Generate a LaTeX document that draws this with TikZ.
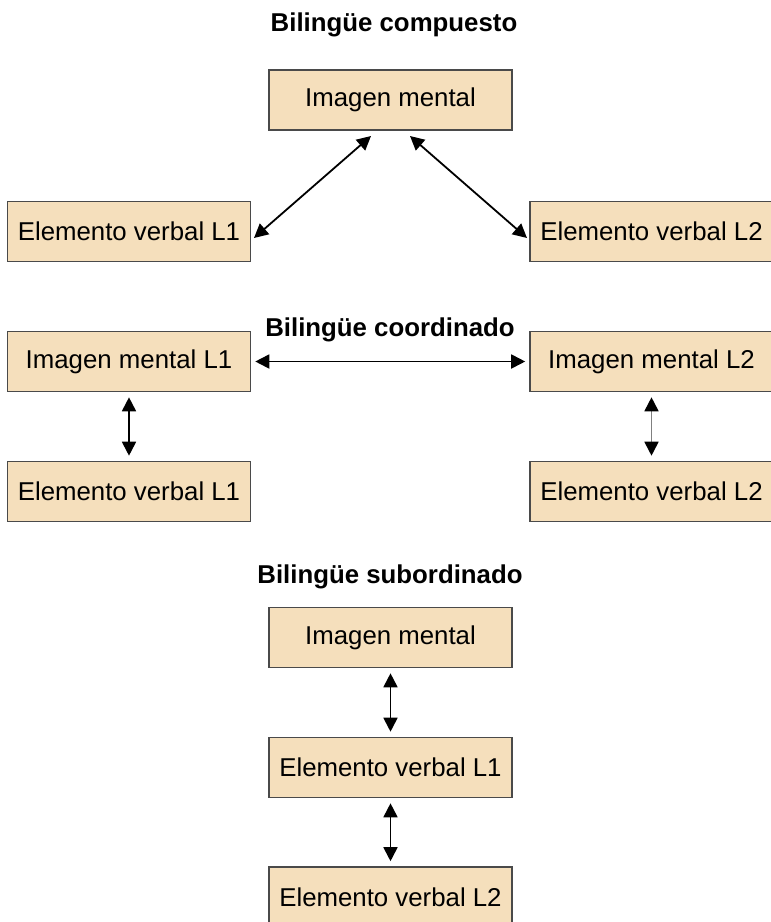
\documentclass[tikz,border=0pt]{standalone}
\usepackage{fontspec}
\setmainfont{Liberation Sans}
\usetikzlibrary{arrows.meta}
\definecolor{boxfill}{HTML}{F5DFBC}
\definecolor{boxline}{HTML}{4A4A4A}
\begin{document}
\begin{tikzpicture}[x=1pt,y=-1pt,
  box/.style={draw=boxline,line width=1.6pt,fill=boxfill,minimum height=60pt,inner sep=0pt,
    font=\fontsize{25.8}{30}\selectfont},
  wbox/.style={box,minimum width=243pt},
  title/.style={font=\fontsize{25.8}{30}\selectfont\bfseries,inner sep=0pt},
  link/.style={line width=1.8pt,{Triangle[length=14pt,width=14pt,color=black]}-{Triangle[length=14pt,width=14pt,color=black]}},
  shorten/.style={shorten <=#1,shorten >=#1}]
\useasboundingbox (0,0) rectangle (771,922);
% Compuesto
\node[title] (t1) at (394,25) {Bilingüe compuesto};
\node[wbox] (c0) at (390.5,100) {Imagen mental};
\node[wbox] (c1) at (129,231.5) {Elemento verbal L1};
\node[wbox] (c2) at (651.5,231.5) {Elemento verbal L2};
\coordinate (c0a) at (371,136);
\coordinate (c0b) at (410,136);
\coordinate (c1a) at (254,238);
\coordinate (c2a) at (527,238);
\draw[link] (c0a) -- (c1a);
\draw[link] (c0b) -- (c2a);
% Coordinado
\node[title] (t2) at (390,330) {Bilingüe coordinado};
\node[wbox] (d1) at (129,361.5) {Imagen mental L1};
\node[wbox] (d2) at (651.5,361.5) {Imagen mental L2};
\node[wbox] (d3) at (129,491.5) {Elemento verbal L1};
\node[wbox] (d4) at (651.5,491.5) {Elemento verbal L2};
\draw[link,shorten=4pt] (d1.east) -- (d2.west);
\draw[link,shorten=5pt] (d1.south) -- (d3.north);
\draw[link,shorten=5pt,draw=gray] (d2.south) -- (d4.north);
% Subordinado
\node[title] (t3) at (390,577) {Bilingüe subordinado};
\node[wbox] (s0) at (390.5,637.5) {Imagen mental};
\node[wbox] (s1) at (390.5,767.5) {Elemento verbal L1};
\node[wbox] (s2) at (390.5,897) {Elemento verbal L2};
\draw[link,shorten=5pt] (s0.south) -- (s1.north);
\draw[link,shorten=5pt] (s1.south) -- (s2.north);
\end{tikzpicture}
\end{document}
